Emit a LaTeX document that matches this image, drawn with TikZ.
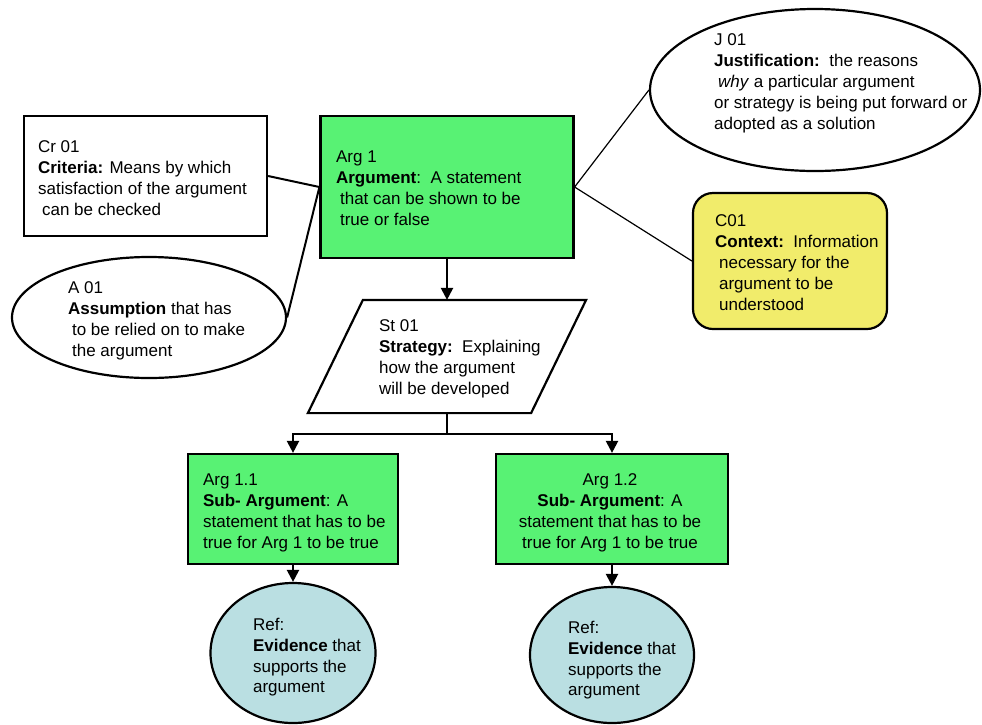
\documentclass[tikz,border=0pt]{standalone}
\usepackage{fontspec}
\setmainfont{Liberation Sans}
\usetikzlibrary{arrows.meta,shapes.geometric}
\definecolor{arggreen}{RGB}{88,242,116}
\definecolor{ctxyellow}{RGB}{241,236,107}
\definecolor{refblue}{RGB}{186,223,226}
\newcommand{\indt}{\hspace*{4pt}}

\begin{document}
\begin{tikzpicture}[x=1pt, y=-1pt, line width=2.2pt, >={Triangle[length=12pt,width=12pt]},
    font=\fontsize{17}{20.8}\selectfont,
    box/.style={draw, rectangle, inner sep=0pt},
    argbox/.style={box, fill=arggreen},
    bubble/.style={draw, ellipse, inner sep=0pt},
    txt/.style={anchor=north west, align=left, inner sep=0pt}]
  \useasboundingbox (0,0) rectangle (982,724);
  % shapes
  \node[box, minimum width=243, minimum height=120] (crit) at (145.5,176) {};
  \node[bubble, minimum width=274, minimum height=121] (assum) at (149,317.5) {};
  \node[argbox, minimum width=253, minimum height=142] (arg) at (447,187) {};
  \node[inner sep=0pt, minimum width=276, minimum height=111] (strat) at (447,356.5) {};
  \draw ([xshift=55pt]strat.north west) -- (strat.north east)
    -- ([xshift=-55pt]strat.south east) -- (strat.south west) -- cycle;
  \node[bubble, minimum width=330, minimum height=162] (just) at (815,90) {};
  \node[box, fill=ctxyellow, rounded corners=20pt, minimum width=194, minimum height=136] (ctx) at (790,261) {};
  \node[argbox, minimum width=210, minimum height=110] (sub1) at (293,509) {};
  \node[argbox, minimum width=232, minimum height=110] (sub2) at (612,509) {};
  \node[bubble, fill=refblue, minimum width=165, minimum height=140] (ref1) at (293,653) {};
  \node[bubble, fill=refblue, minimum width=164, minimum height=136] (ref2) at (612,655) {};
  % texts
  \node[txt] (crittext) at (37,140) {Cr 01\\\textbf{Criteria:} Means by which\\satisfaction of the argument\\\indt can be checked};
  \node[txt] (assumtext) at (67,281) {A 01\\\textbf{Assumption} that has\\\indt to be relied on to make\\\indt the argument};
  \node[txt] (argtext) at (335,150) {Arg 1\\\textbf{Argument}:\ \ A statement\\\indt that can be shown to be\\\indt true or false};
  \node[txt] (strattext) at (378,319) {St 01\\\textbf{Strategy:}\ \ Explaining\\how the argument\\will be developed};
  \node[txt] (justtext) at (713,33) {J 01\\\textbf{Justification:}\ \ the reasons\\\indt\textit{why} a particular argument\\or strategy is being put forward or\\adopted as a solution};
  \node[txt] (ctxtext) at (714,214) {C01\\\textbf{Context:}\ \ Information\\\indt necessary for the\\\indt argument to be\\\indt understood};
  \node[txt] (sub1text) at (202,473) {Arg 1.1\\\textbf{Sub- Argument}: A\\statement that has to be\\true for Arg 1 to be true};
  \node[txt, anchor=north, align=center] (sub2text) at (610,473) {Arg 1.2\\\textbf{Sub- Argument}: A\\statement that has to be\\true for Arg 1 to be true};
  \node[txt] (ref1text) at (252,617) {Ref:\\\textbf{Evidence} that\\supports the\\argument};
  \node[txt] (ref2text) at (567,620) {Ref:\\\textbf{Evidence} that\\supports the\\argument};
  % links
  \path[line width=2pt]
    (crit.east) edge (arg.west)
    (assum.east) edge (arg.west);
  \path[line width=1.2pt]
    (arg.east) edge (just.west)
    (arg.east) edge (ctx.west);
  \draw[->] (arg) -- (strat);
  \draw[->] (strat.south) -- ++(0,21) -| (sub1.north);
  \draw[->] (strat.south) -- ++(0,21) -| (sub2.north);
  \draw[->] (sub1) -- (ref1);
  \draw[->] (sub2) -- (ref2);
\end{tikzpicture}
\end{document}
